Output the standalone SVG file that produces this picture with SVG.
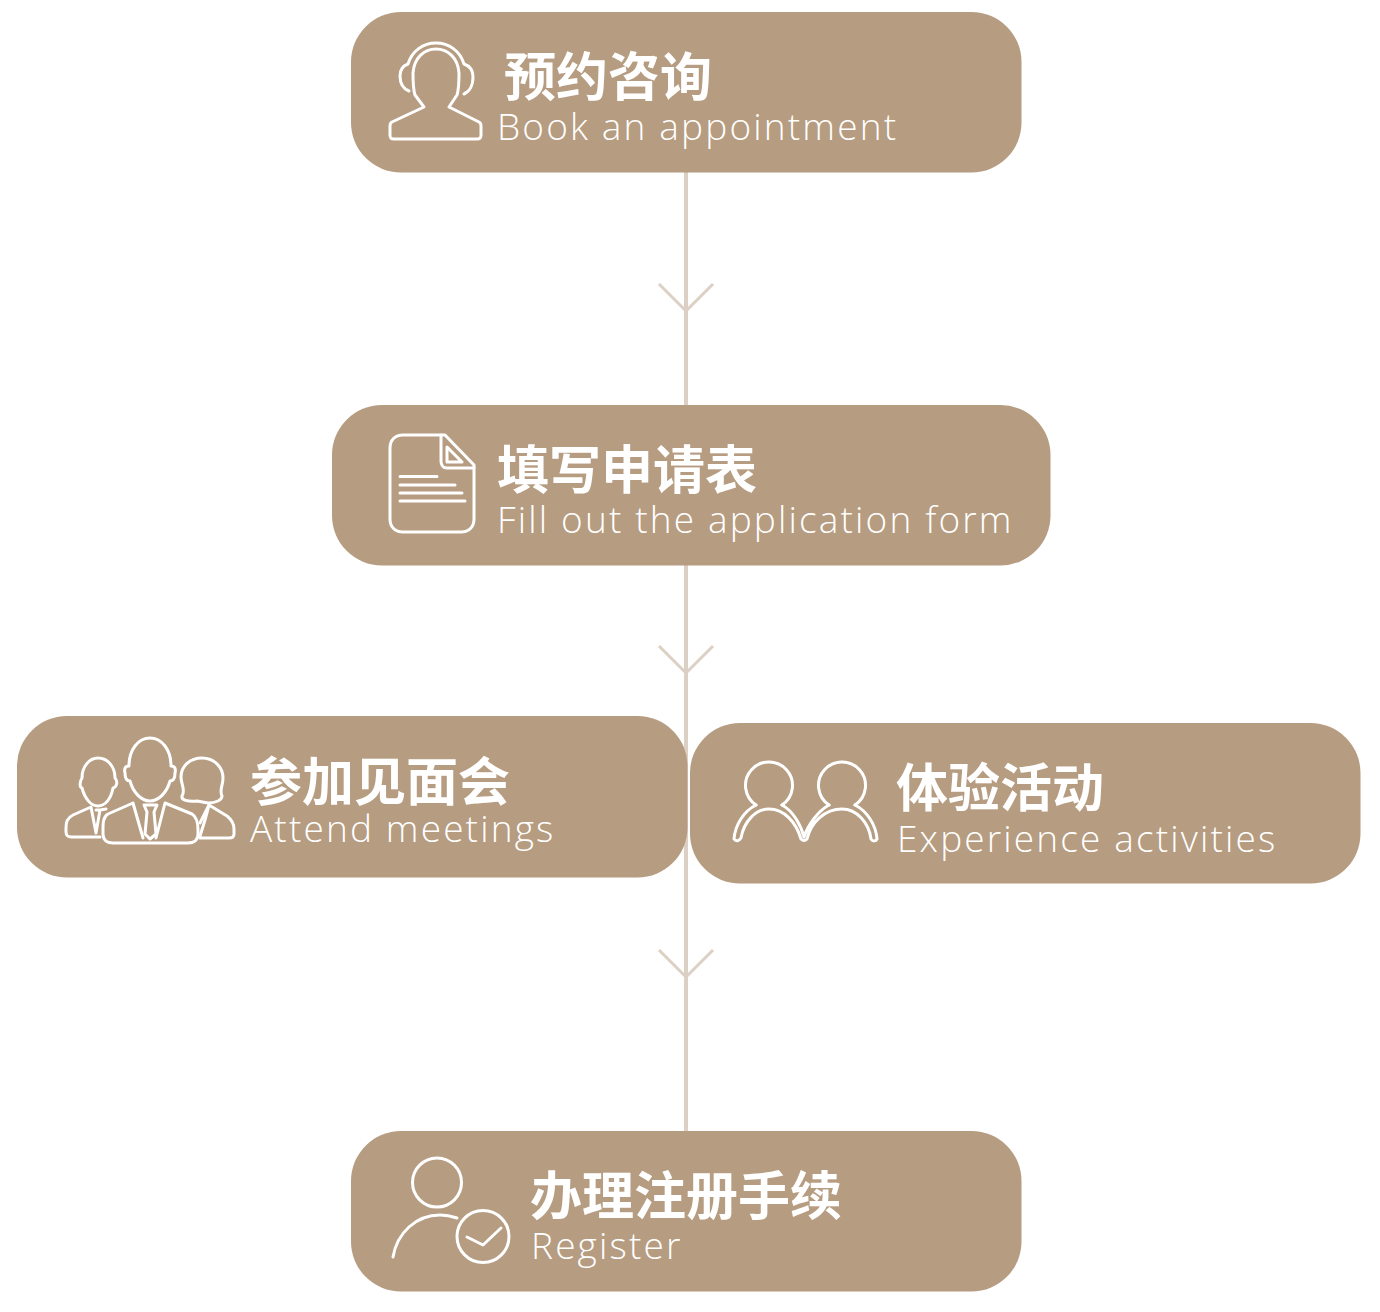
<svg xmlns="http://www.w3.org/2000/svg" width="1380" height="1312" viewBox="0 0 1380 1312">
<style>
.box{fill:#b69c80}
.ic{fill:none;stroke:#fff;stroke-width:3;stroke-linecap:round;stroke-linejoin:round}
.cn{font-family:"Noto Sans CJK SC","Noto Sans",sans-serif;font-weight:700;font-size:52px;fill:#fff}
.en{font-family:"Open Sans","Noto Sans",sans-serif;font-weight:300;font-size:37px;letter-spacing:2.15px;fill:#fff}
.cl{fill:none;stroke:#dccfc3;stroke-width:4}
.ah{fill:none;stroke:#dccfc3;stroke-width:3}
</style>
<rect width="1380" height="1312" fill="#fff"/>
<g id="connectors">
<path class="cl" d="M686 172V1131"/>
<path class="ah" d="M659 284L686 311L713 284"/>
<path class="ah" d="M659 646L686 673L713 646"/>
<path class="ah" d="M659 950L686 977L713 950"/>
</g>
<g id="node-book">
<rect class="box" x="351" y="12" width="670.500" height="160.500" rx="50"/>
<g transform="translate(1 1)">
<path class="ic" d="M423 106L414 94C412 88 412 80 412 72C413 57 423 48 435 48C447 48 457 57 458 72C458 80 458 88 456 94L448 106L478 121C480 122 480 123 480 125V134C480 137 479 138 476 138H393C390 138 389 137 389 134V125C389 123 389 122 391 121Z"/>
<path class="ic" d="M407 63C411 50 422 42 435 42C448 42 459 50 463 63M407 63C401 65 399 70 399 75C399 83 403 88 408 90M463 63C469 65 472 70 472 76C472 85 468 91 463 93"/>
</g>
<text class="cn" x="504" y="96">预约咨询</text>
<text class="en" x="497" y="140">Book an appointment</text>
</g>
<g id="node-form">
<rect class="box" x="332" y="405" width="718.500" height="160.500" rx="50"/>
<path class="ic" d="M445 435H403C395 435 390 440 390 448V519C390 527 395 532 403 532H461C469 532 474 527 474 519V465Z"/>
<path class="ic" d="M441 435V461C441 465 443 468 447 468H474M447 447V462H462Z"/>
<path class="ic" stroke-linecap="butt" d="M400 476.500H437M400 485H455M400 493H462M400 501H465"/>
<text class="cn" x="497" y="489">填写申请表</text>
<text class="en" x="497" y="533">Fill out the application form</text>
</g>
<g id="node-meeting">
<rect class="box" x="17" y="716" width="670.500" height="161.500" rx="50"/>
<path class="ic" d="M129 766C129 750 138 738 150 738C162 738 171 750 171 766C175 766 176 769 175 773C175 778 173 781 170 781C167 792 159 801 150 801C141 801 133 792 130 781C127 781 125 778 125 773C124 769 125 766 129 766Z"/>
<path class="ic" d="M133 803L108 814C103 817 103 823 103 830V834C103 840 107 843 113 843H188C194 843 198 840 198 834V830C198 823 197 817 192 814L165 803L156 838M133 803L143 838"/>
<path class="ic" d="M144 805H157L154 812L156 834L150 839L145 834L147 812Z"/>
<path class="ic" d="M82 788C79 787 80 781 82 778C82 767 89 758 98 758C108 758 115 767 115 778C118 781 117 787 113 788C111 799 105 806 98 806C91 806 85 799 82 788Z"/>
<path class="ic" d="M91 807L73 815C67 818 66 822 66 828V832C66 835 68 837 71 837H100M91 807L96 833L100 810H96M100 810L106 809"/>
<path class="ic" d="M197 801C188 802 181 800 182 796C186 790 181 785 181 777C181 766 190 758 202 758C214 758 223 767 223 778C223 786 219 790 222 796C222 800 216 803 208 803L197 801"/>
<path class="ic" d="M209 805L227 816C232 820 234 824 234 829V834C234 837 232 838 229 838H200M209 805L200 823M209 805L205 820L200 836"/>
<text class="cn" x="250" y="801">参加见面会</text>
<text class="en" x="250" y="842">Attend meetings</text>
</g>
<g id="node-experience">
<rect class="box" x="690" y="723" width="670.500" height="160.500" rx="50"/>
<g transform="translate(0 1)">
<path class="ic" d="M756 804A23.500 23.500 0 1 1 782 804M829 804A23.500 23.500 0 1 1 855 804"/>
<path class="ic" d="M756 804C744 810 735 824 734 838C736 841 739 840 741 837C744 820 756 808 769 808C784 808 796 821 801 838C803 840 805 840 807 838C811 821 825 808 842 808C857 808 869 822 871 838C873 841 876 840 877 838C876 824 867 810 855 804M782 804C793 810 801 824 804 836M829 804C818 810 808 824 804 836"/>
</g>
<text class="cn" x="896" y="807">体验活动</text>
<text class="en" x="897" y="852">Experience activities</text>
</g>
<g id="node-register">
<rect class="box" x="351" y="1131" width="670.500" height="160.500" rx="50"/>
<circle class="ic" cx="437" cy="1182.500" r="24.500"/>
<path class="ic" d="M393 1257C397 1233 416 1215 440 1215C446 1215 451 1216 457 1218"/>
<circle class="ic" cx="483" cy="1236.500" r="26"/>
<path class="ic" d="M467 1237L483 1245L501 1228"/>
<text class="cn" x="530" y="1215">办理注册手续</text>
<text class="en" x="531" y="1259">Register</text>
</g>
</svg>
